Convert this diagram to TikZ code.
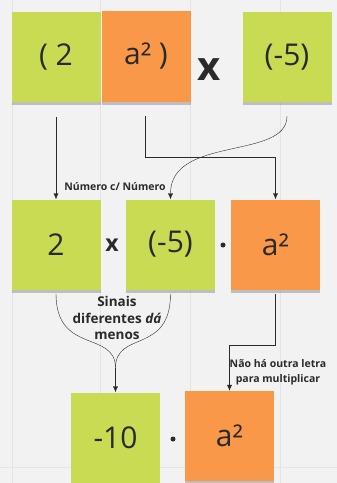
\documentclass[tikz,border=0pt]{standalone}
\usepackage{fontspec}
\setmainfont{Open Sans}
\usetikzlibrary{arrows.meta,shadows}
\definecolor{notegreen}{HTML}{C8DB53}
\definecolor{noteorange}{HTML}{F99848}
\definecolor{board}{HTML}{F2F2F2}
\definecolor{gridline}{HTML}{E4E4E4}
\definecolor{ink}{HTML}{2A2A2A}
\tikzset{
    every node/.style={align=center,},
    note/.style={rectangle,minimum width=89pt,minimum height=90pt,inner sep=0pt,text=ink,
        font=\fontsize{30}{30}\selectfont,
        drop shadow={opacity=0.45,shadow xshift=0pt,shadow yshift=-3pt}},
    greennote/.style={note,fill=notegreen},
    orangenote/.style={note,fill=noteorange},
    op/.style={text=ink,font=\bfseries\fontsize{23}{23}\selectfont},
    dotop/.style={circle,fill=ink,inner sep=0pt,minimum size=5pt},
    lbl/.style={text=ink,font=\bfseries\fontsize{10.5}{15}\selectfont},
    arr/.style={-{Latex[length=6pt,width=5pt]},thin,ink},
}

\begin{document}
\begin{tikzpicture}[x=1pt,y=-1pt]
                \fill[board] (0,0) rectangle (337,483);
                \useasboundingbox (0,0) rectangle (337,483);
                \foreach \gx in {12,100,190,280}
                    \draw[gridline,very thin] (\gx,0) -- (\gx,483);
                \draw[gridline,very thin] (0,467) -- (337,467);

                % first line
                \node[greennote] (open2) at (56,57) {( 2};
                \node[orangenote,minimum height=91pt] (asqclose) at (146,56.5) {a² )};
                \node[op,font=\bfseries\fontsize{40}{40}\selectfont] (times) at (209,70) {x};
                \node[greennote] (minus5) at (287,57) {(-5)};

                % second line
                \node[greennote] (two) at (56,244.5) {2};
                \node[op] (mtimes) at (112,245) {x};
                \node[greennote] (mminus5) at (170.5,244.5) {(-5)};
                \node[dotop] (mdot) at (223,245) {};
                \node[orangenote] (masq) at (275.5,244.5) {a²};

                % result
                \node[greennote] (ten) at (115.5,437.5) {-10};
                \node[dotop] (bdot) at (173,439) {};
                \node[orangenote] (basq) at (229.5,436) {a²};

                \draw[arr] ([yshift=-15pt]open2.south) -- (two.north);
                \draw[arr] ([xshift=-1pt,yshift=-14pt]asqclose.south) -- ++(0,41) -| (masq.north);
                \draw[arr] ([yshift=-14pt]minus5.south) .. controls +(0,44) and +(0,-64) .. (mminus5.north);
                \node[lbl] (numlbl) at (115,187) {Número c/ Número};

                \coordinate (join) at (115.5,368);
                \draw[thin,ink] ([yshift=-4pt]two.south) .. controls +(0,61) and +(0,-38) .. (join);
                \draw[thin,ink] ([yshift=-4pt]mminus5.south) .. controls +(0,61) and +(0,-38) .. (join);
                \draw[arr] (join) -- (ten.north);
                \node[lbl,font=\bfseries\fontsize{13.5}{16.5}\selectfont] (signlbl) at (117,318) {Sinais\\diferentes \textit{dá}\\menos};

                \draw[arr] ([yshift=-4pt]masq.south) -- ++(0,51) -| (basq.north);
                \node[lbl] (letterlbl) at (278,372.5) {Não há outra letra\\para multiplicar};
            \end{tikzpicture}
\end{document}
